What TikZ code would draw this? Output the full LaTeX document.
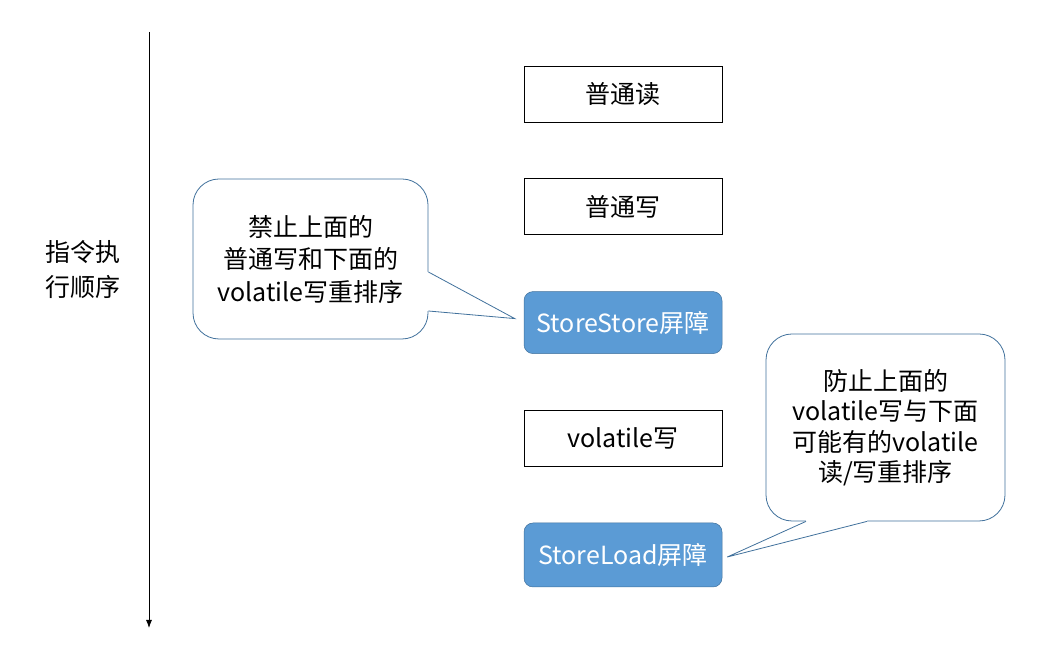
\documentclass[tikz,border=0pt]{standalone}
\usepackage{fontspec}
\setmainfont{Noto Sans CJK SC}
\usetikzlibrary{arrows.meta}
\usetikzlibrary{positioning}
\usetikzlibrary{calc}
\definecolor{barblue}{HTML}{5B9BD5}
\definecolor{edgeblue}{HTML}{41719C}

\begin{document}
\begin{tikzpicture}[x=1pt,y=1pt,
    node distance=56pt,
    op/.style={draw, line width=0.9pt, minimum width=198pt, minimum height=56pt,
      inner sep=0pt, font=\fontsize{25}{30}\selectfont},
    bar/.style={op, draw=edgeblue, line width=0.5pt, fill=barblue, text=white,
      rounded corners=9pt, minimum height=62pt},
    note/.style={draw=edgeblue, line width=0.8pt, fill=white, rounded corners=26pt,
      inner sep=0pt, align=center, font=\fontsize{25}{32.5}\selectfont}]
  \useasboundingbox (0,0) rectangle (1061,660);

  % execution order axis
  \node (ord) at (83,390) [align=center, font=\fontsize{25}{35}\selectfont] {指令执\\行顺序};
  \coordinate (top) at (149,628);
  \coordinate (bot) at (149,32);
  \draw[-{Latex[length=8pt,width=6pt]}, line width=0.8pt] (top) -- (bot);

  \node (rd) at (623,566) [op] {普通读};
  \node (wr) [op, below=of rd] {普通写};
  \node (ss) [bar, below=of wr] {StoreStore屏障};
  \node (vw) [op, below=of ss] {volatile写};
  \node (sl) [bar, below=of vw, minimum height=64pt] {StoreLoad屏障};

  % callouts
  \node (n1) at (310.5,401) [note, minimum width=235pt, minimum height=160pt]
    {禁止上面的\\普通写和下面的\\volatile写重排序};
  \node (n2) at (885.5,232.5) [note, minimum width=239pt, minimum height=187pt,
    font=\fontsize{25}{30.5}\selectfont]
    {防止上面的\\volatile写与下面\\可能有的volatile\\读/写重排序};

  \coordinate[left=9pt of ss.west, yshift=4pt] (t1);
  \coordinate[right=5pt of sl.east, yshift=-2pt] (t2);

  \fill[white] ($(n1.east)+(-4,-13)$) -- ($(n1.east)+(0,-13)$) -- (t1)
    -- ($(n1.east)+(0,-52)$) -- ($(n1.east)+(-4,-52)$) -- cycle;
  \draw[edgeblue, line width=0.8pt] ($(n1.east)+(0,-13)$) -- (t1) -- ($(n1.east)+(0,-52)$);
  \fill[white] ($(n2.south)+(-79.5,4)$) -- ($(n2.south)+(-79.5,0)$) -- (t2)
    -- ($(n2.south)+(-18.5,0)$) -- ($(n2.south)+(-18.5,4)$) -- cycle;
  \draw[edgeblue, line width=0.8pt] ($(n2.south)+(-79.5,0)$) -- (t2) -- ($(n2.south)+(-18.5,0)$);
\end{tikzpicture}
\end{document}
